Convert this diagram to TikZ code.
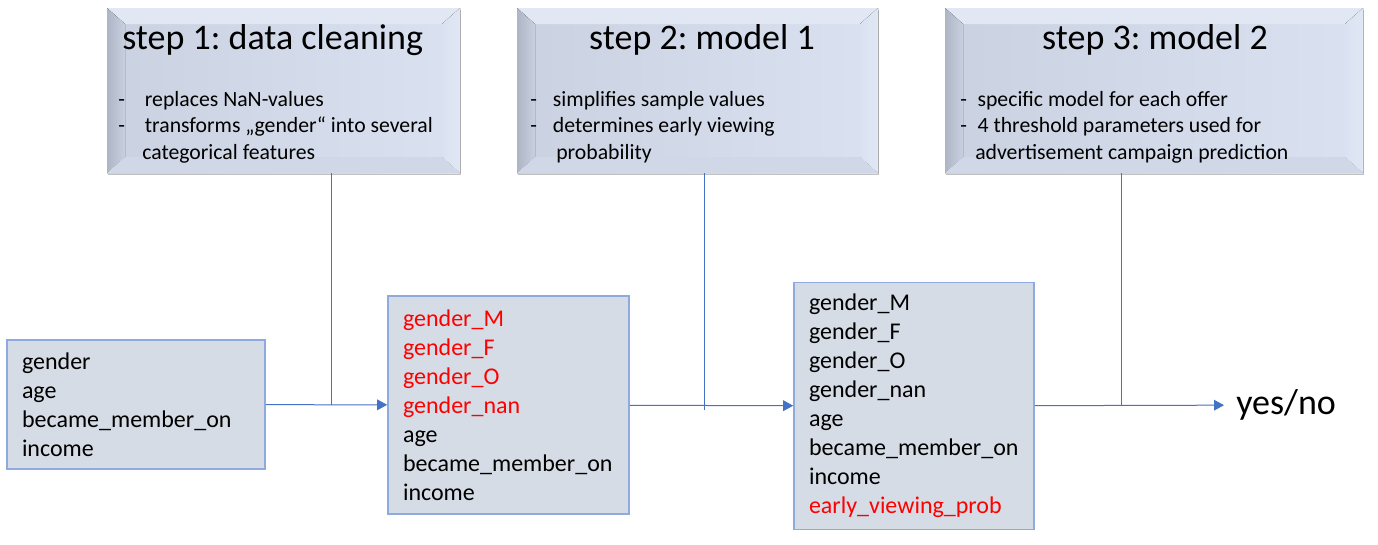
\documentclass[tikz,border=0pt]{standalone}
\usepackage{fontspec}
\setmainfont{Carlito}
\usetikzlibrary{
    arrows.meta,
    positioning,
    shadows
}

\definecolor{facel}{HTML}{CAD1E0}
\definecolor{facer}{HTML}{DAE2F2}
\definecolor{bevdark}{HTML}{AEB5C4}
\definecolor{bevmid}{HTML}{C9D0DE}
\definecolor{bevlight}{HTML}{E1E7F3}
\definecolor{boxfill}{HTML}{D6DCE5}
\definecolor{boxline}{HTML}{8FAADC}
\definecolor{flowblue}{HTML}{4472C4}
\definecolor{newred}{HTML}{FF0000}

\newcommand{\pxu}{0.75pt}
\frenchspacing

\begin{document}
\begin{tikzpicture}[
    x=0.75pt, y=-0.75pt,
    % bevelled step boxes
    stepbox/.style={
        minimum height=165*\pxu,
        inner sep=0pt,
        left color=facel, right color=facer,
        drop shadow={shadow xshift=0.6pt, shadow yshift=-1.8pt, fill=black!35, opacity=0.7},
        path picture={
            \path (path picture bounding box.north west) coordinate (bnw)
                  (path picture bounding box.north east) coordinate (bne)
                  (path picture bounding box.south west) coordinate (bsw)
                  (path picture bounding box.south east) coordinate (bse);
            \fill[bevlight] (bnw) -- (bne) -- ([shift={(-18,16)}]bne) -- ([shift={(18,16)}]bnw) -- cycle;
            \fill[left color=bevdark, right color=bevmid] (bnw) -- ([shift={(18,16)}]bnw) -- ([shift={(18,-16)}]bsw) -- (bsw) -- cycle;
            \fill[left color=facer, right color=bevlight] (bne) -- ([shift={(-18,16)}]bne) -- ([shift={(-18,-16)}]bse) -- (bse) -- cycle;
            \fill[bevmid!60!facer] (bsw) -- ([shift={(18,-16)}]bsw) -- ([shift={(-18,-16)}]bse) -- (bse) -- cycle;
        }
    },
    steptitle/.style={
        font=\fontsize{27}{32}\selectfont,
        inner sep=0pt
    },
    stepnote/.style={
        font=\fontsize{16.3}{19.9}\selectfont,
        align=left,
        inner sep=0pt
    },
    % feature tables
    featbox/.style={
        draw=boxline,
        line width=1.2pt,
        fill=boxfill,
        font=\fontsize{18}{21.75}\selectfont,
        align=left,
        inner xsep=15*\pxu,
        inner ysep=0pt
    },
    flow/.style={
        -{Triangle[length=7.5pt, width=8pt]},
        flowblue,
        line width=0.75pt
    },
    link/.style={
        flowblue,
        line width=0.6pt
    }
]
    \useasboundingbox (0,0) rectangle (1378,544);

    % Steps
    \node[stepbox, minimum width=353*\pxu] (step1) at (283.5,90.5) {};
    \node[stepbox, minimum width=361*\pxu] (step2) at (697.5,90.5) {};
    \node[stepbox, minimum width=418*\pxu] (step3) at (1154,90.5) {};

    \node[steptitle, anchor=west] (step1-title) at (122,40) {step 1: data cleaning};
    \node[steptitle] (step2-title) at (702,40) {step 2: model 1};
    \node[steptitle] (step3-title) at (1155,40) {step 3: model 2};

    \node[stepnote, anchor=north west] (step1-note) at (118,91)
        {-\hspace{15pt}replaces NaN-values\\
         -\hspace{15pt}transforms „gender“ into several\\
         \hspace{18pt}categorical features};
    \node[stepnote, anchor=north west] (step2-note) at (530,91)
        {-\hspace{12pt}simplifies sample values\\
         -\hspace{12pt}determines early viewing\\
         \hspace{19.5pt}probability};
    \node[stepnote, anchor=north west] (step3-note) at (960,91)
        {-\hspace{8pt}specific model for each offer\\
         -\hspace{8pt}4 threshold parameters used for\\
         \hspace{11.25pt}advertisement campaign prediction};

    % Feature sets
    \node[featbox, text width=228*\pxu, minimum height=129*\pxu] (input) at (136,404.5)
        {gender\\age\\became\_member\_on\\income};
    \node[featbox, text width=211*\pxu, minimum height=218*\pxu] (clean) at (508.5,405)
        {\textcolor{newred}{gender\_M}\\\textcolor{newred}{gender\_F}\\
         \textcolor{newred}{gender\_O}\\\textcolor{newred}{gender\_nan}\\
         age\\became\_member\_on\\income};
    \node[featbox, text width=210*\pxu, minimum height=247*\pxu] (model) at (914,406)
        {gender\_M\\gender\_F\\gender\_O\\gender\_nan\\age\\became\_member\_on\\income\\
         \textcolor{newred}{early\_viewing\_prob}};

    \node[font=\fontsize{27}{32}\selectfont, anchor=west, inner xsep=9pt] (result) at (1224,405) {yes/no};

    % Flow
    \draw[flow] (input) -- (clean);
    \draw[flow] (clean) -- (model);
    \draw[flow] (model) -- (result);

    % Steps acting on the flow
    \coordinate (join1) at (331,405);
    \coordinate (join2) at (704,410);
    \coordinate (join3) at (1121,405);
    \draw[link] (step1.south -| join1) -- (join1);
    \draw[link] (step2.south -| join2) -- (join2);
    \draw[link] (step3.south -| join3) -- (join3);
\end{tikzpicture}
\end{document}
